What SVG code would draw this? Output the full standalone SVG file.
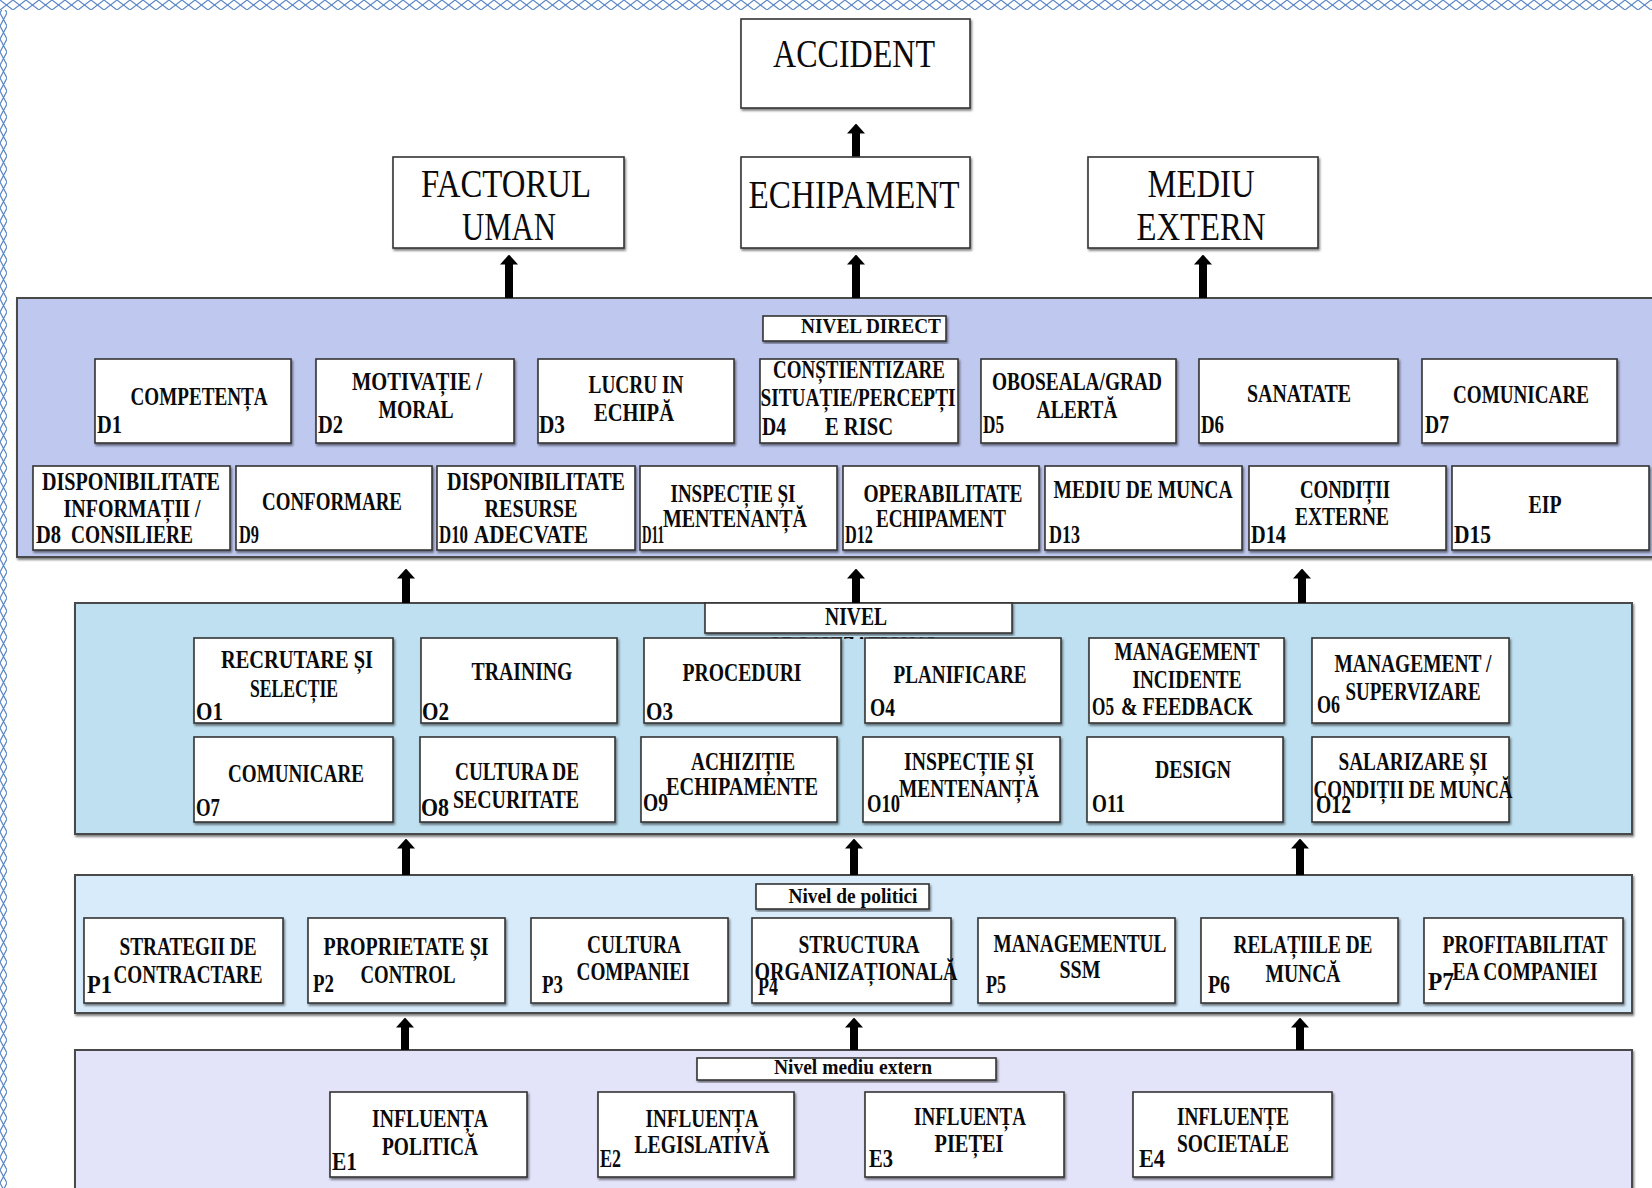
<svg xmlns="http://www.w3.org/2000/svg" width="1652" height="1188" viewBox="0 0 1652 1188">
  <defs>
    <style>
      .bx { fill:#fff; stroke:#333; stroke-width:1.6; filter:url(#sh); }
      .lbl { fill:#fff; stroke:#333; stroke-width:1.6; filter:url(#sh); }
      .pn { stroke:#4a4a4a; stroke-width:2; filter:url(#sh); }
      text { font-family:"Liberation Serif","Times New Roman",serif; fill:#0a0a0a; }
      .big { font-size:39px; text-anchor:middle; }
      .t { font-size:26px; font-weight:bold; text-anchor:middle; }
      .id { font-size:26px; font-weight:bold; }
      .lv { font-size:21px; font-weight:bold; text-anchor:middle; }
      .lv2 { font-size:22px; font-weight:bold; text-anchor:middle; }
      .ar { stroke:#000; stroke-width:8; marker-end:url(#ah); }
    </style>
    <filter id="sh" x="-5%" y="-5%" width="110%" height="115%">
      <feDropShadow dx="1.2" dy="2" stdDeviation="0.9" flood-color="#000" flood-opacity="0.5"/>
    </filter>
    <marker id="ah" markerUnits="userSpaceOnUse" markerWidth="10" markerHeight="18" viewBox="0 0 10 18" refX="0.5" refY="9" orient="auto">
      <path d="M0,0 L10,9 L0,18 Z" fill="#000"/>
    </marker>
    <pattern id="xTop" width="13" height="10" patternUnits="userSpaceOnUse">
      <path d="M0,0 L13,10 M0,10 L13,0" stroke="#5b87c8" stroke-width="1.2" fill="none"/>
    </pattern>
    <pattern id="xLeft" width="7" height="13" patternUnits="userSpaceOnUse">
      <path d="M0,0 L7,13 M0,13 L7,0" stroke="#5b87c8" stroke-width="1.3" fill="none"/>
    </pattern>
    <clipPath id="nivClip">
      <rect x="700" y="632" width="320" height="7"/>
    </clipPath>
  </defs>

  <rect width="1652" height="1188" fill="#fff"/>
  <!-- page border ornament -->
  <rect x="0" y="0" width="1652" height="10" fill="url(#xTop)"/>
  <rect x="0" y="10" width="7" height="1178" fill="url(#xLeft)"/>

  <!-- level panels -->
  <g id="panel-direct">
    <rect class="pn" x="17" y="298" width="1650" height="259" fill="#bfc8ef"/>
    <rect class="lbl" x="763" y="316" width="183" height="25"/>
    <text class="lv" x="871" y="333" textLength="140" lengthAdjust="spacingAndGlyphs">NIVEL DIRECT</text>
  </g>
  <g id="panel-org">
    <rect class="pn" x="75" y="603" width="1557" height="231" fill="#bfe0f0"/>
    <rect class="lbl" x="705" y="603" width="307" height="30"/>
    <text class="t" x="856" y="625" textLength="62" lengthAdjust="spacingAndGlyphs">NIVEL</text>
    <text class="t" x="854" y="654" textLength="172" lengthAdjust="spacingAndGlyphs" clip-path="url(#nivClip)">ORGANIZAȚIONAL</text>
  </g>
  <g id="panel-policy">
    <rect class="pn" x="75" y="875" width="1557" height="138" fill="#d7ebfb"/>
    <rect class="lbl" x="756" y="884" width="173" height="25"/>
    <text class="lv2" x="853" y="903" textLength="129" lengthAdjust="spacingAndGlyphs">Nivel de politici</text>
  </g>
  <g id="panel-extern">
    <rect class="pn" x="75" y="1050" width="1557" height="150" fill="#e3e3fa"/>
    <rect class="lbl" x="697" y="1058" width="299" height="22"/>
    <text class="lv2" x="853" y="1074" textLength="158" lengthAdjust="spacingAndGlyphs">Nivel mediu extern</text>
  </g>

  <!-- connectors -->
  <g id="connectors">
    <line class="ar" x1="856" y1="157" x2="856" y2="133"/>
    <line class="ar" x1="509" y1="298" x2="509" y2="264"/>
    <line class="ar" x1="856" y1="298" x2="856" y2="264"/>
    <line class="ar" x1="1203" y1="298" x2="1203" y2="264"/>
    <line class="ar" x1="406" y1="603" x2="406" y2="578"/>
    <line class="ar" x1="856" y1="603" x2="856" y2="578"/>
    <line class="ar" x1="1302" y1="603" x2="1302" y2="578"/>
    <line class="ar" x1="406" y1="875" x2="406" y2="848"/>
    <line class="ar" x1="854" y1="875" x2="854" y2="848"/>
    <line class="ar" x1="1300" y1="875" x2="1300" y2="848"/>
    <line class="ar" x1="405" y1="1050" x2="405" y2="1027"/>
    <line class="ar" x1="854" y1="1050" x2="854" y2="1027"/>
    <line class="ar" x1="1300" y1="1050" x2="1300" y2="1027"/>
  </g>

  <!-- outcome and top factors -->
  <g id="accident">
    <rect class="bx" x="741" y="19" width="229" height="89"/>
    <text class="big" x="854" y="67" textLength="162" lengthAdjust="spacingAndGlyphs">ACCIDENT</text>
  </g>
  <g id="factorul-uman">
    <rect class="bx" x="393" y="157" width="231" height="91"/>
    <text class="big" x="506" y="197" textLength="170" lengthAdjust="spacingAndGlyphs">FACTORUL</text>
    <text class="big" x="509" y="240" textLength="94" lengthAdjust="spacingAndGlyphs">UMAN</text>
  </g>
  <g id="echipament">
    <rect class="bx" x="741" y="157" width="229" height="91"/>
    <text class="big" x="854" y="208" textLength="211" lengthAdjust="spacingAndGlyphs">ECHIPAMENT</text>
  </g>
  <g id="mediu-extern">
    <rect class="bx" x="1088" y="157" width="230" height="91"/>
    <text class="big" x="1201" y="197" textLength="107" lengthAdjust="spacingAndGlyphs">MEDIU</text>
    <text class="big" x="1201" y="240" textLength="129" lengthAdjust="spacingAndGlyphs">EXTERN</text>
  </g>

  <!-- direct level -->
  <g id="d1">
    <rect class="bx" x="95" y="359" width="196" height="84"/>
    <text class="t" x="199" y="405" textLength="137" lengthAdjust="spacingAndGlyphs">COMPETENȚA</text>
    <text class="id" x="97" y="433" textLength="25" lengthAdjust="spacingAndGlyphs">D1</text>
  </g>
  <g id="d2">
    <rect class="bx" x="316" y="359" width="198" height="84"/>
    <text class="t" x="417" y="390" textLength="130" lengthAdjust="spacingAndGlyphs">MOTIVAȚIE /</text>
    <text class="t" x="416" y="418" textLength="75" lengthAdjust="spacingAndGlyphs">MORAL</text>
    <text class="id" x="318" y="433" textLength="25" lengthAdjust="spacingAndGlyphs">D2</text>
  </g>
  <g id="d3">
    <rect class="bx" x="538" y="359" width="196" height="84"/>
    <text class="t" x="636" y="393" textLength="95" lengthAdjust="spacingAndGlyphs">LUCRU IN</text>
    <text class="t" x="634" y="421" textLength="80" lengthAdjust="spacingAndGlyphs">ECHIPĂ</text>
    <text class="id" x="539" y="433" textLength="26" lengthAdjust="spacingAndGlyphs">D3</text>
  </g>
  <g id="d4">
    <rect class="bx" x="760" y="359" width="198" height="84"/>
    <text class="t" x="859" y="378" textLength="172" lengthAdjust="spacingAndGlyphs">CONȘTIENTIZARE</text>
    <text class="t" x="858" y="406" textLength="195" lengthAdjust="spacingAndGlyphs">SITUAȚIE/PERCEPȚI</text>
    <text class="t" x="859" y="435" textLength="68" lengthAdjust="spacingAndGlyphs">E RISC</text>
    <text class="id" x="762" y="435" textLength="24" lengthAdjust="spacingAndGlyphs">D4</text>
  </g>
  <g id="d5">
    <rect class="bx" x="981" y="359" width="195" height="84"/>
    <text class="t" x="1077" y="390" textLength="170" lengthAdjust="spacingAndGlyphs">OBOSEALA/GRAD</text>
    <text class="t" x="1077" y="418" textLength="81" lengthAdjust="spacingAndGlyphs">ALERTĂ</text>
    <text class="id" x="983" y="433" textLength="21" lengthAdjust="spacingAndGlyphs">D5</text>
  </g>
  <g id="d6">
    <rect class="bx" x="1199" y="359" width="199" height="84"/>
    <text class="t" x="1299" y="402" textLength="104" lengthAdjust="spacingAndGlyphs">SANATATE</text>
    <text class="id" x="1201" y="433" textLength="23" lengthAdjust="spacingAndGlyphs">D6</text>
  </g>
  <g id="d7">
    <rect class="bx" x="1422" y="359" width="195" height="84"/>
    <text class="t" x="1521" y="403" textLength="136" lengthAdjust="spacingAndGlyphs">COMUNICARE</text>
    <text class="id" x="1425" y="433" textLength="24" lengthAdjust="spacingAndGlyphs">D7</text>
  </g>
  <g id="d8">
    <rect class="bx" x="33" y="466" width="197" height="84"/>
    <text class="t" x="131" y="490" textLength="178" lengthAdjust="spacingAndGlyphs">DISPONIBILITATE</text>
    <text class="t" x="132" y="517" textLength="137" lengthAdjust="spacingAndGlyphs">INFORMAȚII /</text>
    <text class="t" x="132" y="543" textLength="122" lengthAdjust="spacingAndGlyphs">CONSILIERE</text>
    <text class="id" x="36" y="543" textLength="25" lengthAdjust="spacingAndGlyphs">D8</text>
  </g>
  <g id="d9">
    <rect class="bx" x="236" y="466" width="196" height="84"/>
    <text class="t" x="332" y="510" textLength="140" lengthAdjust="spacingAndGlyphs">CONFORMARE</text>
    <text class="id" x="239" y="543" textLength="20" lengthAdjust="spacingAndGlyphs">D9</text>
  </g>
  <g id="d10">
    <rect class="bx" x="437" y="466" width="198" height="84"/>
    <text class="t" x="536" y="490" textLength="178" lengthAdjust="spacingAndGlyphs">DISPONIBILITATE</text>
    <text class="t" x="531" y="517" textLength="93" lengthAdjust="spacingAndGlyphs">RESURSE</text>
    <text class="t" x="531" y="543" textLength="114" lengthAdjust="spacingAndGlyphs">ADECVATE</text>
    <text class="id" x="439" y="543" textLength="29" lengthAdjust="spacingAndGlyphs">D10</text>
  </g>
  <g id="d11">
    <rect class="bx" x="640" y="466" width="197" height="84"/>
    <text class="t" x="733" y="502" textLength="125" lengthAdjust="spacingAndGlyphs">INSPECȚIE ȘI</text>
    <text class="t" x="735" y="527" textLength="144" lengthAdjust="spacingAndGlyphs">MENTENANȚĂ</text>
    <text class="id" x="642" y="543" textLength="22" lengthAdjust="spacingAndGlyphs">D11</text>
  </g>
  <g id="d12">
    <rect class="bx" x="843" y="466" width="196" height="84"/>
    <text class="t" x="943" y="502" textLength="159" lengthAdjust="spacingAndGlyphs">OPERABILITATE</text>
    <text class="t" x="941" y="527" textLength="130" lengthAdjust="spacingAndGlyphs">ECHIPAMENT</text>
    <text class="id" x="845" y="543" textLength="28" lengthAdjust="spacingAndGlyphs">D12</text>
  </g>
  <g id="d13">
    <rect class="bx" x="1045" y="466" width="197" height="84"/>
    <text class="t" x="1143" y="498" textLength="179" lengthAdjust="spacingAndGlyphs">MEDIU DE MUNCA</text>
    <text class="id" x="1049" y="543" textLength="31" lengthAdjust="spacingAndGlyphs">D13</text>
  </g>
  <g id="d14">
    <rect class="bx" x="1249" y="466" width="197" height="84"/>
    <text class="t" x="1345" y="498" textLength="90" lengthAdjust="spacingAndGlyphs">CONDIȚII</text>
    <text class="t" x="1342" y="525" textLength="94" lengthAdjust="spacingAndGlyphs">EXTERNE</text>
    <text class="id" x="1251" y="543" textLength="35" lengthAdjust="spacingAndGlyphs">D14</text>
  </g>
  <g id="d15">
    <rect class="bx" x="1452" y="466" width="197" height="84"/>
    <text class="t" x="1545" y="513" textLength="33" lengthAdjust="spacingAndGlyphs">EIP</text>
    <text class="id" x="1454" y="543" textLength="37" lengthAdjust="spacingAndGlyphs">D15</text>
  </g>

  <!-- organisational level -->
  <g id="o1">
    <rect class="bx" x="194" y="638" width="199" height="85"/>
    <text class="t" x="297" y="668" textLength="152" lengthAdjust="spacingAndGlyphs">RECRUTARE ȘI</text>
    <text class="t" x="294" y="697" textLength="88" lengthAdjust="spacingAndGlyphs">SELECȚIE</text>
    <text class="id" x="196" y="720" textLength="27" lengthAdjust="spacingAndGlyphs">O1</text>
  </g>
  <g id="o2">
    <rect class="bx" x="421" y="638" width="196" height="85"/>
    <text class="t" x="522" y="680" textLength="101" lengthAdjust="spacingAndGlyphs">TRAINING</text>
    <text class="id" x="422" y="720" textLength="27" lengthAdjust="spacingAndGlyphs">O2</text>
  </g>
  <g id="o3">
    <rect class="bx" x="644" y="638" width="197" height="85"/>
    <text class="t" x="742" y="681" textLength="119" lengthAdjust="spacingAndGlyphs">PROCEDURI</text>
    <text class="id" x="646" y="720" textLength="27" lengthAdjust="spacingAndGlyphs">O3</text>
  </g>
  <g id="o4">
    <rect class="bx" x="865" y="638" width="196" height="85"/>
    <text class="t" x="960" y="683" textLength="133" lengthAdjust="spacingAndGlyphs">PLANIFICARE</text>
    <text class="id" x="870" y="716" textLength="25" lengthAdjust="spacingAndGlyphs">O4</text>
  </g>
  <g id="o5">
    <rect class="bx" x="1089" y="638" width="195" height="85"/>
    <text class="t" x="1187" y="660" textLength="145" lengthAdjust="spacingAndGlyphs">MANAGEMENT</text>
    <text class="t" x="1187" y="688" textLength="109" lengthAdjust="spacingAndGlyphs">INCIDENTE</text>
    <text class="t" x="1187" y="715" textLength="132" lengthAdjust="spacingAndGlyphs">&amp; FEEDBACK</text>
    <text class="id" x="1092" y="715" textLength="22" lengthAdjust="spacingAndGlyphs">O5</text>
  </g>
  <g id="o6">
    <rect class="bx" x="1312" y="638" width="197" height="85"/>
    <text class="t" x="1413" y="672" textLength="157" lengthAdjust="spacingAndGlyphs">MANAGEMENT /</text>
    <text class="t" x="1413" y="700" textLength="135" lengthAdjust="spacingAndGlyphs">SUPERVIZARE</text>
    <text class="id" x="1317" y="713" textLength="23" lengthAdjust="spacingAndGlyphs">O6</text>
  </g>
  <g id="o7">
    <rect class="bx" x="194" y="737" width="199" height="85"/>
    <text class="t" x="296" y="782" textLength="136" lengthAdjust="spacingAndGlyphs">COMUNICARE</text>
    <text class="id" x="196" y="816" textLength="24" lengthAdjust="spacingAndGlyphs">O7</text>
  </g>
  <g id="o8">
    <rect class="bx" x="420" y="737" width="195" height="85"/>
    <text class="t" x="517" y="780" textLength="124" lengthAdjust="spacingAndGlyphs">CULTURA DE</text>
    <text class="t" x="516" y="808" textLength="126" lengthAdjust="spacingAndGlyphs">SECURITATE</text>
    <text class="id" x="421" y="816" textLength="28" lengthAdjust="spacingAndGlyphs">O8</text>
  </g>
  <g id="o9">
    <rect class="bx" x="641" y="737" width="196" height="85"/>
    <text class="t" x="743" y="770" textLength="104" lengthAdjust="spacingAndGlyphs">ACHIZIȚIE</text>
    <text class="t" x="742" y="795" textLength="152" lengthAdjust="spacingAndGlyphs">ECHIPAMENTE</text>
    <text class="id" x="643" y="811" textLength="25" lengthAdjust="spacingAndGlyphs">O9</text>
  </g>
  <g id="o10">
    <rect class="bx" x="863" y="737" width="197" height="85"/>
    <text class="t" x="969" y="770" textLength="130" lengthAdjust="spacingAndGlyphs">INSPECȚIE ȘI</text>
    <text class="t" x="969" y="797" textLength="140" lengthAdjust="spacingAndGlyphs">MENTENANȚĂ</text>
    <text class="id" x="867" y="812" textLength="33" lengthAdjust="spacingAndGlyphs">O10</text>
  </g>
  <g id="o11">
    <rect class="bx" x="1087" y="737" width="196" height="85"/>
    <text class="t" x="1193" y="778" textLength="76" lengthAdjust="spacingAndGlyphs">DESIGN</text>
    <text class="id" x="1092" y="812" textLength="33" lengthAdjust="spacingAndGlyphs">O11</text>
  </g>
  <g id="o12">
    <rect class="bx" x="1312" y="737" width="197" height="85"/>
    <text class="t" x="1413" y="770" textLength="149" lengthAdjust="spacingAndGlyphs">SALARIZARE ȘI</text>
    <text class="t" x="1413" y="798" textLength="199" lengthAdjust="spacingAndGlyphs">CONDIȚII DE MUNCĂ</text>
    <text class="id" x="1316" y="813" textLength="35" lengthAdjust="spacingAndGlyphs">O12</text>
  </g>

  <!-- policy level -->
  <g id="p1">
    <rect class="bx" x="84" y="918" width="199" height="85"/>
    <text class="t" x="188" y="955" textLength="137" lengthAdjust="spacingAndGlyphs">STRATEGII DE</text>
    <text class="t" x="188" y="983" textLength="149" lengthAdjust="spacingAndGlyphs">CONTRACTARE</text>
    <text class="id" x="87" y="993" textLength="25" lengthAdjust="spacingAndGlyphs">P1</text>
  </g>
  <g id="p2">
    <rect class="bx" x="308" y="918" width="197" height="85"/>
    <text class="t" x="406" y="955" textLength="165" lengthAdjust="spacingAndGlyphs">PROPRIETATE ȘI</text>
    <text class="t" x="408" y="983" textLength="95" lengthAdjust="spacingAndGlyphs">CONTROL</text>
    <text class="id" x="313" y="992" textLength="21" lengthAdjust="spacingAndGlyphs">P2</text>
  </g>
  <g id="p3">
    <rect class="bx" x="531" y="918" width="197" height="85"/>
    <text class="t" x="634" y="953" textLength="94" lengthAdjust="spacingAndGlyphs">CULTURA</text>
    <text class="t" x="633" y="980" textLength="113" lengthAdjust="spacingAndGlyphs">COMPANIEI</text>
    <text class="id" x="542" y="993" textLength="21" lengthAdjust="spacingAndGlyphs">P3</text>
  </g>
  <g id="p4">
    <rect class="bx" x="752" y="918" width="199" height="85"/>
    <text class="t" x="859" y="953" textLength="121" lengthAdjust="spacingAndGlyphs">STRUCTURA</text>
    <text class="t" x="856" y="980" textLength="203" lengthAdjust="spacingAndGlyphs">ORGANIZAȚIONALĂ</text>
    <text class="id" x="758" y="995" textLength="20" lengthAdjust="spacingAndGlyphs">P4</text>
  </g>
  <g id="p5">
    <rect class="bx" x="978" y="918" width="197" height="85"/>
    <text class="t" x="1080" y="952" textLength="173" lengthAdjust="spacingAndGlyphs">MANAGEMENTUL</text>
    <text class="t" x="1080" y="978" textLength="41" lengthAdjust="spacingAndGlyphs">SSM</text>
    <text class="id" x="986" y="993" textLength="20" lengthAdjust="spacingAndGlyphs">P5</text>
  </g>
  <g id="p6">
    <rect class="bx" x="1201" y="918" width="197" height="85"/>
    <text class="t" x="1303" y="953" textLength="139" lengthAdjust="spacingAndGlyphs">RELAȚIILE DE</text>
    <text class="t" x="1303" y="982" textLength="75" lengthAdjust="spacingAndGlyphs">MUNCĂ</text>
    <text class="id" x="1208" y="993" textLength="22" lengthAdjust="spacingAndGlyphs">P6</text>
  </g>
  <g id="p7">
    <rect class="bx" x="1424" y="918" width="199" height="85"/>
    <text class="t" x="1525" y="953" textLength="165" lengthAdjust="spacingAndGlyphs">PROFITABILITAT</text>
    <text class="t" x="1525" y="980" textLength="145" lengthAdjust="spacingAndGlyphs">EA COMPANIEI</text>
    <text class="id" x="1428" y="990" textLength="26" lengthAdjust="spacingAndGlyphs">P7</text>
  </g>

  <!-- external environment level -->
  <g id="e1">
    <rect class="bx" x="330" y="1092" width="197" height="85"/>
    <text class="t" x="430" y="1127" textLength="116" lengthAdjust="spacingAndGlyphs">INFLUENȚA</text>
    <text class="t" x="430" y="1155" textLength="96" lengthAdjust="spacingAndGlyphs">POLITICĂ</text>
    <text class="id" x="332" y="1170" textLength="25" lengthAdjust="spacingAndGlyphs">E1</text>
  </g>
  <g id="e2">
    <rect class="bx" x="598" y="1092" width="196" height="85"/>
    <text class="t" x="702" y="1127" textLength="113" lengthAdjust="spacingAndGlyphs">INFLUENȚA</text>
    <text class="t" x="702" y="1153" textLength="135" lengthAdjust="spacingAndGlyphs">LEGISLATIVĂ</text>
    <text class="id" x="600" y="1167" textLength="21" lengthAdjust="spacingAndGlyphs">E2</text>
  </g>
  <g id="e3">
    <rect class="bx" x="865" y="1092" width="199" height="85"/>
    <text class="t" x="970" y="1125" textLength="112" lengthAdjust="spacingAndGlyphs">INFLUENȚA</text>
    <text class="t" x="969" y="1152" textLength="69" lengthAdjust="spacingAndGlyphs">PIEȚEI</text>
    <text class="id" x="869" y="1167" textLength="24" lengthAdjust="spacingAndGlyphs">E3</text>
  </g>
  <g id="e4">
    <rect class="bx" x="1133" y="1092" width="199" height="85"/>
    <text class="t" x="1233" y="1125" textLength="112" lengthAdjust="spacingAndGlyphs">INFLUENȚE</text>
    <text class="t" x="1233" y="1152" textLength="112" lengthAdjust="spacingAndGlyphs">SOCIETALE</text>
    <text class="id" x="1139" y="1167" textLength="26" lengthAdjust="spacingAndGlyphs">E4</text>
  </g>
</svg>
